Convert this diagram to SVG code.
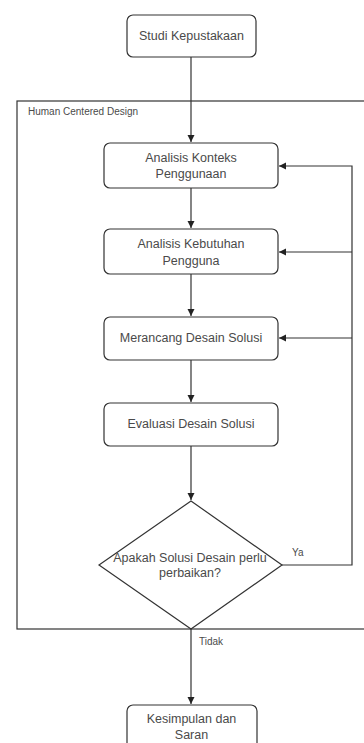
<svg xmlns="http://www.w3.org/2000/svg" width="364" height="743" viewBox="0 0 364 743">
<defs>
<marker id="arr" markerWidth="8" markerHeight="8" refX="7" refY="4" orient="auto" markerUnits="userSpaceOnUse">
<path d="M0,0.5 L7,4 L0,7.5 Z" fill="#222"/>
</marker>
<style>
.box{fill:#fff;stroke:#333;stroke-width:1.2}
.t{font-family:"Liberation Sans",Arial,sans-serif;font-size:12.5px;fill:#4a4a4a;text-anchor:middle}
.lbl{font-family:"Liberation Sans",Arial,sans-serif;font-size:10px;fill:#4a4a4a}
.c{fill:none;stroke:#333;stroke-width:1.2}
</style>
</defs>
<rect width="364" height="743" fill="#fff"/>
<g id="container">
<rect x="17" y="101" width="370" height="528" fill="none" stroke="#333" stroke-width="1.2"/>
<text class="lbl" x="28" y="115" font-size="9.5">Human Centered Design</text>
</g>
<g id="studi">
<rect class="box" x="127" y="15" width="129" height="42" rx="6"/>
<text class="t" x="191.5" y="40">Studi Kepustakaan</text>
</g>
<g id="konteks">
<rect class="box" x="104" y="143" width="174" height="45" rx="6"/>
<text class="t" x="191" y="162">Analisis Konteks</text>
<text class="t" x="191" y="178">Penggunaan</text>
</g>
<g id="kebutuhan">
<rect class="box" x="104" y="229" width="174" height="45" rx="6"/>
<text class="t" x="191" y="248">Analisis Kebutuhan</text>
<text class="t" x="191" y="265">Pengguna</text>
</g>
<g id="merancang">
<rect class="box" x="104" y="317" width="174" height="43" rx="6"/>
<text class="t" x="191" y="342">Merancang Desain Solusi</text>
</g>
<g id="evaluasi">
<rect class="box" x="104" y="403" width="174" height="43" rx="6"/>
<text class="t" x="191" y="428">Evaluasi Desain Solusi</text>
</g>
<g id="keputusan">
<polygon points="191,501 282,565 191,629 99,565" fill="#fff" stroke="#333" stroke-width="1.2"/>
<text class="t" x="190" y="562" font-size="11.5">Apakah Solusi Desain perlu</text>
<text class="t" x="190" y="577" font-size="11.5">perbaikan?</text>
</g>
<g id="kesimpulan">
<rect class="box" x="127" y="705" width="130" height="50" rx="6"/>
<text class="t" x="191.5" y="723">Kesimpulan dan</text>
<text class="t" x="191.5" y="739">Saran</text>
</g>
<g id="connectors">
<path class="c" d="M191,57 V142" marker-end="url(#arr)"/>
<path class="c" d="M191,188 V228" marker-end="url(#arr)"/>
<path class="c" d="M191,274 V316" marker-end="url(#arr)"/>
<path class="c" d="M191,360 V402" marker-end="url(#arr)"/>
<path class="c" d="M191,446 V500" marker-end="url(#arr)"/>
<path class="c" d="M282,565 H352 V166 H279" marker-end="url(#arr)"/>
<path class="c" d="M352,252 H279" marker-end="url(#arr)"/>
<path class="c" d="M352,338 H279" marker-end="url(#arr)"/>
<path class="c" d="M191,629 V704" marker-end="url(#arr)"/>
<text class="lbl" x="292" y="556">Ya</text>
<text class="lbl" x="199" y="645">Tidak</text>
</g>
</svg>
